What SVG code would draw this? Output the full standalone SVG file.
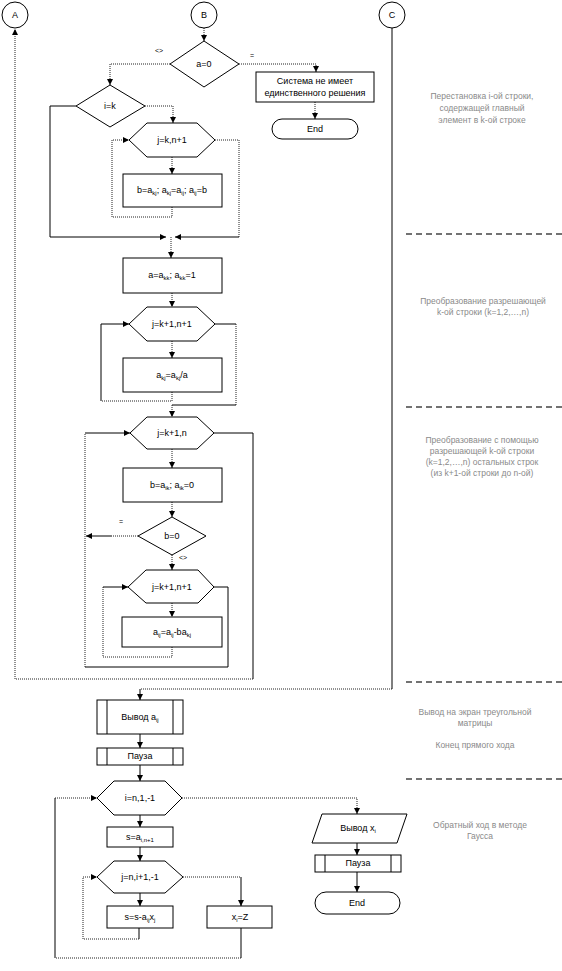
<svg xmlns="http://www.w3.org/2000/svg" width="562" height="971" viewBox="0 0 562 971">
<style>
text{font-family:"Liberation Sans",Arial,sans-serif;font-size:9px;fill:#000;text-anchor:middle}
.s{font-size:6px}
.note{font-size:8.5px;fill:#8a8a8a}
.lbl{font-size:7px}
.sh{fill:#fff;stroke:#000;stroke-width:1}
.c{fill:none;stroke:#000;stroke-width:1}
.d{fill:none;stroke:#222;stroke-width:1;stroke-dasharray:1 1}
.sep{fill:none;stroke:#444;stroke-width:1.3;stroke-dasharray:6 4}
</style>
<defs>
<marker id="ah" markerUnits="userSpaceOnUse" markerWidth="7" markerHeight="7" refX="6" refY="3" orient="auto">
<path d="M0,0 L6,3 L0,6 z" fill="#000"/>
</marker>
</defs>
<rect width="562" height="971" fill="#fff"/>

<g id="connectors">
<path class="c" d="M214,433 H253 V679"/>
<path class="d" d="M253,679 H15 V29" marker-end="url(#ah)"/>
<path class="d" d="M204,28 V41" marker-end="url(#ah)"/>
<path class="d" d="M170,64 H110 V85" marker-end="url(#ah)"/>
<path class="d" d="M239,64 H316 V72" marker-end="url(#ah)"/>
<path class="d" d="M315,102 V119" marker-end="url(#ah)"/>
<path class="c" d="M76,106 H50 V237 H166" marker-end="url(#ah)"/>
<path class="d" d="M145,106 H173 V123" marker-end="url(#ah)"/>
<path class="d" d="M172,157 V174" marker-end="url(#ah)"/>
<path class="d" d="M172,207 V217 H112 V140 H129" marker-end="url(#ah)"/>
<path class="d" d="M215,140 H239 V237"/>
<path class="c" d="M239,237 H175" marker-end="url(#ah)"/>
<path class="d" d="M171,237 V258" marker-end="url(#ah)"/>
<path class="d" d="M172,293 V307" marker-end="url(#ah)"/>
<path class="d" d="M172,341 V358" marker-end="url(#ah)"/>
<path class="d" d="M172,392 V401 H101"/>
<path class="c" d="M101,401 V324 H129" marker-end="url(#ah)"/>
<path class="c" d="M215,324 H236"/>
<path class="d" d="M236,324 V405"/>
<path class="c" d="M236,405 H172"/>
<path class="d" d="M172,405 V417" marker-end="url(#ah)"/>
<path class="d" d="M172,449 V468" marker-end="url(#ah)"/>
<path class="d" d="M172,502 V517" marker-end="url(#ah)"/>
<path class="d" d="M138,536 H112"/>
<path class="c" d="M112,536 H86" marker-end="url(#ah)"/>
<path class="d" d="M172,555 V570" marker-end="url(#ah)"/>
<path class="d" d="M172,603 V617" marker-end="url(#ah)"/>
<path class="d" d="M172,647 V657 H103 V587"/>
<path class="c" d="M103,587 H128" marker-end="url(#ah)"/>
<path class="c" d="M214,587 H228 V667 H85"/>
<path class="d" d="M85,667 V433"/>
<path class="c" d="M85,433 H130" marker-end="url(#ah)"/>
<path class="c" d="M392,28 V689"/>
<path class="d" d="M392,689 H140"/>
<path class="c" d="M140,689 V700" marker-end="url(#ah)"/>
<path class="c" d="M140,734 V748" marker-end="url(#ah)"/>
<path class="c" d="M140,765 V781" marker-end="url(#ah)"/>
<path class="c" d="M140,815 V827" marker-end="url(#ah)"/>
<path class="c" d="M140,847 V861" marker-end="url(#ah)"/>
<path class="c" d="M140,893 V906" marker-end="url(#ah)"/>
<path class="c" d="M139,928 V939"/>
<path class="d" d="M139,939 H83 V877 H97" marker-end="url(#ah)"/>
<path class="d" d="M183,877 H241"/>
<path class="c" d="M241,877 V906" marker-end="url(#ah)"/>
<path class="c" d="M241,928 V958"/>
<path class="d" d="M241,958 H55"/>
<path class="c" d="M55,958 V798"/>
<path class="d" d="M55,798 H97" marker-end="url(#ah)"/>
<path class="d" d="M182,798 H357 V814" marker-end="url(#ah)"/>
<path class="c" d="M357,843 V855" marker-end="url(#ah)"/>
<path class="c" d="M357,872 V892" marker-end="url(#ah)"/>
</g>

<g id="A"><circle class="sh" cx="15" cy="15" r="13"/><text x="15" y="18">A</text></g>
<g id="B"><circle class="sh" cx="204" cy="15" r="13"/><text x="204" y="18">B</text></g>
<g id="C"><circle class="sh" cx="392" cy="15" r="13"/><text x="392" y="18">C</text></g>

<g id="dec-a0"><polygon class="sh" points="204,41 239,64 204,87 170,64"/><text x="204" y="67">a=0</text></g>
<text class="lbl" x="159" y="53">&lt;&gt;</text>
<text class="lbl" x="252" y="58">=</text>
<g id="no-solution"><rect class="sh" x="256" y="72" width="118" height="30"/><text x="315" y="84">Система не имеет</text><text x="315" y="96">единственного решения</text></g>
<g id="end1"><rect class="sh" x="272" y="119" width="86" height="20" rx="10"/><text x="315" y="132">End</text></g>

<g id="dec-ik"><polygon class="sh" points="110,85 145,106 110,127 76,106"/><text x="110" y="109">i=k</text></g>
<g id="loop1"><polygon class="sh" points="129,140 147,123 197,123 215,140 197,157 147,157"/><text x="172" y="143">j=k,n+1</text></g>
<g id="swap"><rect class="sh" x="123" y="174" width="99" height="33"/><text x="172" y="193">b=a<tspan class="s" dy="2">kj</tspan><tspan dy="-2">; a</tspan><tspan class="s" dy="2">kj</tspan><tspan dy="-2">=a</tspan><tspan class="s" dy="2">ij</tspan><tspan dy="-2">; a</tspan><tspan class="s" dy="2">ij</tspan><tspan dy="-2">=b</tspan></text></g>

<g id="pivot"><rect class="sh" x="123" y="258" width="99" height="35"/><text x="172" y="278">a=a<tspan class="s" dy="2">kk</tspan><tspan dy="-2">; a</tspan><tspan class="s" dy="2">kk</tspan><tspan dy="-2">=1</tspan></text></g>
<g id="loop2"><polygon class="sh" points="129,324 147,307 197,307 215,324 197,341 147,341"/><text x="172" y="327">j=k+1,n+1</text></g>
<g id="divide"><rect class="sh" x="123" y="358" width="99" height="34"/><text x="172" y="378">a<tspan class="s" dy="2">kj</tspan><tspan dy="-2">=a</tspan><tspan class="s" dy="2">kj</tspan><tspan dy="-2">/a</tspan></text></g>

<g id="loop3"><polygon class="sh" points="130,433 147,417 197,417 214,433 197,449 147,449"/><text x="172" y="436">j=k+1,n</text></g>
<g id="bset"><rect class="sh" x="123" y="468" width="99" height="34"/><text x="172" y="488">b=a<tspan class="s" dy="2">ik</tspan><tspan dy="-2">; a</tspan><tspan class="s" dy="2">ik</tspan><tspan dy="-2">=0</tspan></text></g>
<g id="dec-b0"><polygon class="sh" points="172,517 206,536 172,555 138,536"/><text x="172" y="539">b=0</text></g>
<text class="lbl" x="121" y="524">=</text>
<text class="lbl" x="183" y="560">&lt;&gt;</text>
<g id="loop4"><polygon class="sh" points="128,587 146,570 198,570 214,587 198,603 146,603"/><text x="172" y="590">j=k+1,n+1</text></g>
<g id="elim"><rect class="sh" x="122" y="617" width="100" height="30"/><text x="172" y="635">a<tspan class="s" dy="2">ij</tspan><tspan dy="-2">=a</tspan><tspan class="s" dy="2">ij</tspan><tspan dy="-2">-ba</tspan><tspan class="s" dy="2">kj</tspan></text></g>

<g id="out-matrix"><rect class="sh" x="97" y="700" width="86" height="34"/><path class="c" d="M107,700 V734 M173,700 V734"/><text x="140" y="720">Вывод a<tspan class="s" dy="2">ij</tspan></text></g>
<g id="pause1"><rect class="sh" x="97" y="748" width="86" height="17"/><path class="c" d="M107,748 V765 M173,748 V765"/><text x="140" y="759">Пауза</text></g>

<g id="loop-i"><polygon class="sh" points="97,798 114,781 165,781 182,798 165,815 114,815"/><text x="140" y="801">i=n,1,-1</text></g>
<g id="s-init"><rect class="sh" x="107" y="827" width="66" height="20"/><text x="140" y="840">s=a<tspan class="s" dy="2">i,n+1</tspan></text></g>
<g id="loop-j"><polygon class="sh" points="97,877 114,861 165,861 183,877 165,893 114,893"/><text x="140" y="880">j=n,i+1,-1</text></g>
<g id="s-acc"><rect class="sh" x="107" y="906" width="66" height="22"/><text x="140" y="920">s=s-a<tspan class="s" dy="2">ij</tspan><tspan dy="-2">x</tspan><tspan class="s" dy="2">j</tspan></text></g>
<g id="x-set"><rect class="sh" x="207" y="906" width="65" height="22"/><text x="240" y="920">x<tspan class="s" dy="2">i</tspan><tspan dy="-2">=Z</tspan></text></g>

<g id="out-x"><polygon class="sh" points="322,814 407,814 397,843 312,843"/><text x="358" y="831">Вывод x<tspan class="s" dy="2">i</tspan></text></g>
<g id="pause2"><rect class="sh" x="315" y="855" width="86" height="17"/><path class="c" d="M325,855 V872 M391,855 V872"/><text x="358" y="866">Пауза</text></g>
<g id="end2"><rect class="sh" x="315" y="892" width="85" height="22" rx="11"/><text x="357" y="906">End</text></g>

<g id="notes">
<path class="sep" d="M406,234 H562 M406,407 H562 M406,682 H562 M406,779 H562"/>
<text class="note" x="482" y="99">Перестановка i-ой строки,</text>
<text class="note" x="482" y="111">содержащей главный</text>
<text class="note" x="482" y="123">элемент в k-ой строке</text>
<text class="note" x="483" y="304">Преобразование разрешающей</text>
<text class="note" x="483" y="315">k-ой строки (k=1,2,…,n)</text>
<text class="note" x="482" y="443">Преобразование с помощью</text>
<text class="note" x="482" y="454">разрешающей k-ой строки</text>
<text class="note" x="482" y="465">(k=1,2,…,n) остальных строк</text>
<text class="note" x="482" y="476">(из k+1-ой строки до n-ой)</text>
<text class="note" x="475" y="715">Вывод на экран треугольной</text>
<text class="note" x="475" y="726">матрицы</text>
<text class="note" x="475" y="748">Конец прямого хода</text>
<text class="note" x="480" y="828">Обратный ход в методе</text>
<text class="note" x="480" y="839">Гаусса</text>
</g>
</svg>
